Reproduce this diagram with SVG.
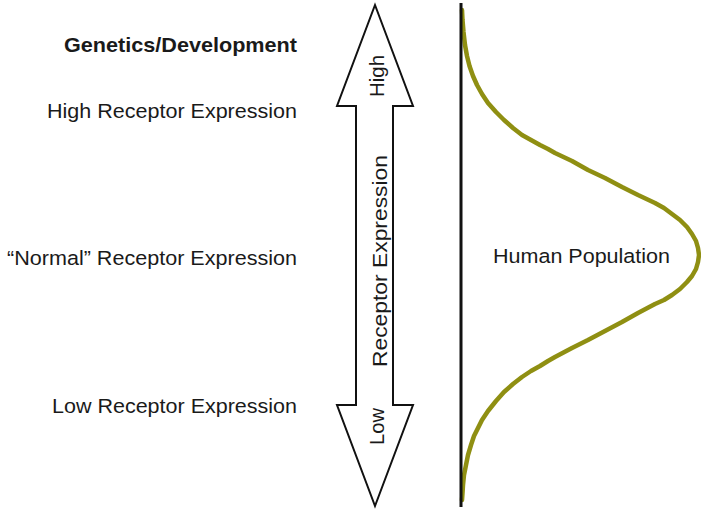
<svg xmlns="http://www.w3.org/2000/svg" width="701" height="509" viewBox="0 0 701 509">
<style>
.lbl{font-family:"Liberation Sans",Arial,sans-serif;font-size:20.5px;fill:#1a1a1a}
.b{font-weight:bold}
.rot{font-family:"Liberation Sans",Arial,sans-serif;font-size:19.5px;fill:#1a1a1a;text-anchor:middle}
</style>
<rect width="701" height="509" fill="#ffffff"/>
<g id="labels">
<text class="lbl b" x="297" y="52" text-anchor="end" textLength="233" lengthAdjust="spacingAndGlyphs">Genetics/Development</text>
<text class="lbl" x="297" y="118" text-anchor="end" textLength="250" lengthAdjust="spacingAndGlyphs">High Receptor Expression</text>
<text class="lbl" x="297" y="265" text-anchor="end" textLength="290" lengthAdjust="spacingAndGlyphs">“Normal” Receptor Expression</text>
<text class="lbl" x="297" y="413" text-anchor="end" textLength="245" lengthAdjust="spacingAndGlyphs">Low Receptor Expression</text>
</g>
<g id="arrow">
<polygon points="375,5 413,106 393,106 393,405 413,405 375,506 337,405 356,405 356,106 337,106" fill="#ffffff" stroke="#111" stroke-width="2" stroke-linejoin="miter"/>
<text class="rot" transform="translate(383.5,76) rotate(-90)" textLength="42" lengthAdjust="spacingAndGlyphs">High</text>
<text class="rot" transform="translate(386.5,261) rotate(-90)" textLength="212" lengthAdjust="spacingAndGlyphs">Receptor Expression</text>
<text class="rot" transform="translate(383.5,426.5) rotate(-90)" textLength="37" lengthAdjust="spacingAndGlyphs">Low</text>
</g>
<g id="population">
<polyline points="462,10 462.5,20 463.5,32 465,45 467,56 469.5,66 473,76 477,85 482,94 488,103 496,112 504,120 513,128 522,135 531,140 540,145 548,149 555,153 572,161 588,170 605,178 622,187 638,195 655,203 664,208 672,214 680,220 687,227 692,234 696,241 698,248 699,255 698,262 696,269 692,276 687,282 680,289 672,295 664,300 655,304 638,313 622,322 605,331 588,340 572,348 555,357 548,361 540,366 531,371 522,377 513,384 504,392 496,401 488,411 482,420 478,428 474,436 471,445 468,455 466,465 464,475 463,485 462.5,493 462,500" fill="none" stroke="#8f8f12" stroke-width="4.5" stroke-linejoin="round" stroke-linecap="round"/>
<line x1="461" y1="3" x2="461" y2="507" stroke="#111" stroke-width="3"/>
<text class="lbl" x="493" y="263" textLength="177" lengthAdjust="spacingAndGlyphs">Human Population</text>
</g>
</svg>
